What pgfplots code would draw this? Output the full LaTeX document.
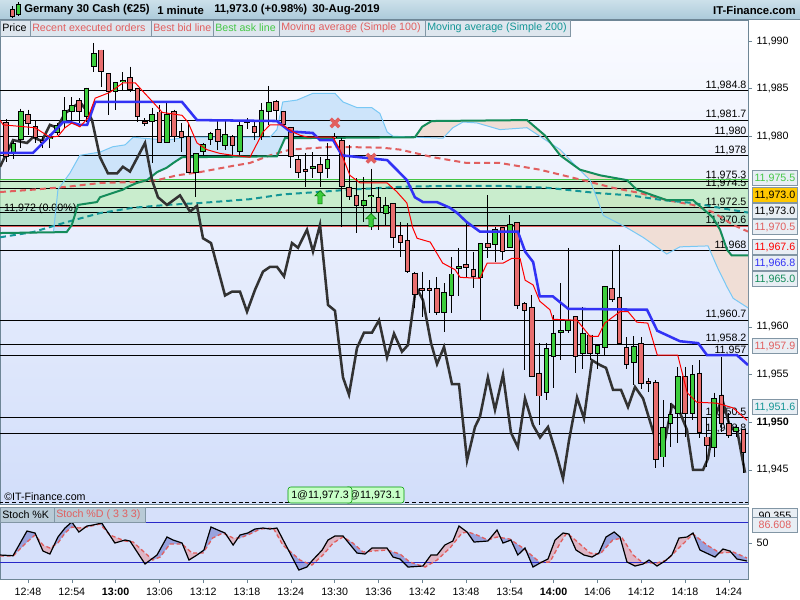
\documentclass[border=0pt]{standalone}
\usepackage{fontspec}
\setmainfont{Liberation Sans}
\usepackage{pgfplots}
\pgfplotsset{compat=1.18}
\usepackage{pgfplotstable}
\usepgfplotslibrary{fillbetween}

\definecolor{frame}{RGB}{110,134,150}
\definecolor{bgtop}{RGB}{250,251,255}
\definecolor{bgbot}{RGB}{210,222,250}
\definecolor{candred}{RGB}{232,110,110}
\definecolor{candgreen}{RGB}{60,205,60}
\definecolor{bluel}{RGB}{50,50,245}
\definecolor{cloudln}{RGB}{120,200,245}
\definecolor{cloudgr}{RGB}{20,140,90}
\definecolor{cloudbl}{RGB}{205,228,250}
\definecolor{cloudpe}{RGB}{240,222,214}
\definecolor{salmon}{RGB}{225,95,95}
\definecolor{tealc}{RGB}{20,150,150}
\definecolor{askgreen}{RGB}{70,200,70}
\definecolor{bandlt}{RGB}{190,236,190}
\definecolor{banddk}{RGB}{165,222,190}
\definecolor{stochbg}{RGB}{214,224,250}
\definecolor{stblue}{RGB}{152,162,222}
\definecolor{stpink}{RGB}{222,182,198}
\definecolor{stline}{RGB}{40,40,200}
\definecolor{tabbg}{RGB}{222,230,238}
\definecolor{tabln}{RGB}{130,150,165}
\definecolor{darkln}{RGB}{50,50,50}

\newcommand\sz{\fontsize{8}{9.6}\selectfont}

\pgfdeclareplotmark{uparr}{%
  \pgfpathmoveto{\pgfpoint{0pt}{5pt}}%
  \pgfpathlineto{\pgfpoint{4pt}{1pt}}%
  \pgfpathlineto{\pgfpoint{1.6pt}{1pt}}%
  \pgfpathlineto{\pgfpoint{1.6pt}{-5pt}}%
  \pgfpathlineto{\pgfpoint{-1.6pt}{-5pt}}%
  \pgfpathlineto{\pgfpoint{-1.6pt}{1pt}}%
  \pgfpathlineto{\pgfpoint{-4pt}{1pt}}%
  \pgfpathclose\pgfusepathqfillstroke}

% minute after 12:00, open, high, low, close
\pgfplotstableread{
t o h l c
45 11981.5 11981.8 11977.3 11977.8
46 11978.2 11979.5 11977.6 11979.3
47 11979.6 11982.9 11978.8 11982.7
48 11982.3 11982.8 11980.1 11981.3
49 11981.1 11981.7 11979.3 11979.8
50 11979.6 11979.9 11978.8 11979.3
51 11979.7 11980.2 11978.8 11979.95
52 11980.3 11981.4 11980.1 11981.2
53 11981.4 11984.1 11980.9 11982.8
54 11982.6 11984.1 11981.5 11983.3
55 11983.8 11984.0 11981.4 11982.6
56 11982.0 11985.1 11981.5 11985.1
57 11987.3 11989.8 11986.7 11988.7
58 11989.1 11989.1 11985.2 11986.7
59 11986.6 11986.6 11982.2 11984.6
60 11984.6 11985.7 11982.8 11985.7
61 11985.7 11986.7 11984.9 11985.95
62 11986.2 11987.3 11984.6 11984.9
63 11985.1 11985.1 11981.5 11982.0
64 11981.6 11981.9 11981.1 11981.3
65 11981.5 11983.0 11977.2 11982.3
66 11982.6 11983.3 11979.3 11979.3
67 11979.3 11983.5 11979.3 11982.3
68 11982.7 11982.8 11979.4 11979.9
69 11980.6 11981.4 11978.4 11979.8
70 11980.0 11981.4 11976.1 11976.1
71 11976.1 11978.2 11973.6 11978.2
72 11978.4 11979.3 11978.0 11979.2
73 11979.6 11980.5 11979.1 11980.3
74 11980.8 11981.7 11978.6 11979.4
75 11979.0 11981.7 11978.6 11980.2
76 11980.0 11980.1 11978.0 11979.0
77 11978.4 11981.7 11978.0 11981.2
78 11981.7 11981.9 11980.8 11981.4
79 11981.1 11981.7 11979.6 11980.3
80 11979.9 11983.5 11979.6 11982.8
81 11982.6 11985.3 11981.2 11983.6
82 11983.7 11983.8 11981.7 11982.7
83 11982.7 11982.7 11981.2 11981.2
84 11981.0 11981.0 11976.7 11977.8
85 11977.6 11978.0 11975.6 11976.1
86 11976.6 11978.2 11974.7 11976.3
87 11976.6 11978.35 11975.6 11976.85
88 11977.1 11977.8 11974.7 11976.1
89 11976.6 11979.3 11975.6 11977.6
90 11980.0 11980.3 11979.6 11979.8
91 11979.6 11979.8 11970.5 11974.7
92 11974.7 11979.1 11973.3 11973.6
93 11973.8 11975.6 11969.9 11972.7
94 11972.7 11975.7 11971.0 11973.3
95 11973.6 11976.6 11970.2 11973.85
96 11973.6 11974.7 11970.2 11972.0
97 11971.8 11973.6 11970.7 11972.8
98 11973.0 11973.0 11968.3 11969.3
99 11969.6 11971.0 11967.3 11968.8
100 11969.1 11970.9 11965.7 11965.8
101 11965.7 11965.8 11962.0 11963.3
102 11964.1 11965.8 11961.0 11963.8
103 11964.1 11964.9 11961.5 11963.8
104 11964.1 11965.2 11961.3 11961.5
105 11961.5 11964.6 11959.5 11963.7
106 11963.2 11967.3 11961.5 11965.6
107 11966.1 11968.3 11963.2 11966.35
108 11966.6 11970.9 11965.1 11966.2
109 11966.1 11967.9 11964.05 11965.2
110 11965.1 11968.8 11960.7 11968.8
111 11968.8 11973.8 11967.2 11968.3
112 11968.6 11970.5 11966.8 11970.3
113 11970.5 11970.5 11967.0 11967.9
114 11968.3 11971.7 11968.3 11970.8
115 11971.0 11971.0 11961.9 11962.2
116 11962.5 11962.6 11955.5 11961.7
117 11962.1 11963.35 11954.7 11954.7
118 11955.2 11958.3 11949.7 11952.7
119 11953.1 11958.3 11952.3 11957.8
120 11956.8 11961.25 11953.6 11959.4
121 11959.4 11964.6 11956.5 11959.65
122 11959.6 11968.3 11959.4 11960.7
123 11961.1 11961.1 11955.2 11956.8
124 11957.2 11962.1 11955.6 11959.4
125 11959.2 11959.2 11956.5 11957.2
126 11957.2 11958.1 11955.6 11958.1
127 11957.8 11964.3 11957.1 11964.3
128 11964.1 11968.1 11962.6 11962.8
129 11963.1 11968.6 11958.1 11958.2
130 11957.9 11958.9 11955.6 11956.0
131 11956.2 11959.0 11953.9 11958.0
132 11958.3 11958.9 11953.5 11954.0
133 11954.3 11954.6 11953.2 11954.0
134 11954.2 11954.4 11945.2 11946.0
135 11946.3 11952.3 11945.3 11949.5
136 11949.8 11952.0 11947.4 11950.9
137 11950.9 11955.8 11947.8 11954.8
138 11954.8 11955.8 11948.45 11950.9
139 11950.9 11956.0 11950.2 11955.1
140 11955.2 11956.5 11948.35 11948.9
141 11948.5 11950.55 11945.3 11947.5
142 11947.3 11953.1 11946.35 11952.5
143 11952.9 11956.8 11949.0 11949.8
144 11949.9 11951.0 11948.35 11948.6
145 11949.0 11949.7 11948.45 11949.5
146 11949.3 11949.3 11944.7 11946.8
}\candles

% dark comparison line
\pgfplotstableread{
t v
44.16 11976.8
45.95 11979.6
47.86 11979.3
48.68 11979.9
49.9 11979.5
51.0 11981.2
51.97 11980.9
53.07 11982.4
55.12 11983.6
56.2 11982.5
56.77 11981.7
57.86 11977.8
58.96 11976.1
60.19 11976.1
61.0 11976.8
61.97 11976.3
64.03 11979.3
64.99 11975.4
65.81 11973.6
67.04 11972.8
68.82 11973.8
70.19 11972.1
71.15 11972.7
71.97 11969.3
73.07 11968.8
74.99 11963.3
75.95 11963.7
77.04 11963.7
78.0 11961.6
79.1 11963.9
80.19 11965.8
81.15 11966.3
82.11 11966.3
83.07 11965.3
84.16 11968.8
84.99 11968.3
86.22 11970.2
87.04 11967.9
88.0 11970.7
89.1 11962.3
90.05 11961.7
91.15 11954.7
91.97 11952.9
93.07 11957.8
94.03 11959.4
95.12 11959.4
96.08 11960.7
97.18 11956.8
98.14 11959.3
99.23 11957.4
100.05 11958.1
101.15 11964.2
102.11 11962.8
103.21 11958.3
104.03 11956.1
104.99 11957.9
106.08 11954.0
107.04 11954.0
108.14 11946.0
109.23 11949.5
109.92 11950.6
111.0 11954.7
111.97 11951.3
113.07 11955.0
114.16 11948.9
115.1 11947.4
116.08 11952.5
117.18 11949.7
118.14 11948.4
119.23 11949.5
120.33 11946.8
121.29 11944.1
122.11 11948.1
123.21 11952.6
124.16 11950.4
125.26 11956.5
126.36 11956.0
127.18 11955.7
128.14 11953.4
129.23 11953.4
130.19 11951.6
131.15 11953.7
132.25 11952.5
134.16 11947.7
135.12 11947.6
136.22 11951.8
137.32 11951.0
138.27 11949.2
139.1 11945.0
140.47 11945.0
141.15 11946.2
142.11 11950.5
143.07 11952.5
144.16 11949.5
145.12 11949.2
146.22 11944.7
}\darkline

\pgfplotstableread{
t v
44.16 11978.25
48.68 11978.25
52.1 11980.9
52.8 11981.5
53.75 11981.5
55.1 11981.2
56.1 11981.2
57.2 11983.6
69.1 11983.6
71.15 11981.7
82.1 11981.6
83.9 11980.5
87.0 11980.35
88.0 11979.6
89.8 11979.6
91.0 11978.0
97.2 11977.5
98.5 11976.5
99.9 11975.4
101.0 11973.6
102.1 11973.1
104.0 11973.1
105.8 11972.5
106.8 11971.95
108.1 11971.0
109.9 11970.0
115.1 11970.0
116.1 11967.9
117.2 11966.8
118.1 11963.2
119.9 11963.2
122.0 11961.9
132.8 11961.8
134.2 11959.6
137.3 11958.5
139.8 11958.3
141.0 11957.05
145.1 11957.05
146.63 11956.0
}\blueline

\pgfplotstableread{
t v
44.16 11981.7
44.6 11981.2
48.96 11980.9
51.0 11979.9
52.1 11980.0
53.07 11980.9
54.0 11981.4
55.1 11981.0
56.2 11981.9
57.2 11984.0
59.2 11984.6
61.0 11985.6
62.7 11985.6
64.0 11984.5
65.1 11983.6
66.4 11982.5
69.1 11982.2
69.9 11981.5
71.15 11979.3
72.5 11978.6
74.3 11978.2
76.1 11978.0
78.4 11977.8
80.2 11980.45
81.15 11981.2
82.9 11981.2
84.3 11980.45
85.3 11980.1
86.4 11979.9
89.8 11979.9
90.7 11978.6
92.1 11975.9
93.5 11975.1
97.2 11975.1
98.5 11974.2
99.9 11973.0
100.7 11970.4
101.3 11969.3
103.1 11968.9
104.8 11966.7
106.5 11966.0
107.2 11965.2
109.9 11965.1
110.9 11966.7
113.1 11966.7
114.3 11967.2
115.4 11967.2
116.1 11964.9
117.2 11964.4
118.1 11962.7
119.5 11961.8
119.9 11960.8
123.2 11960.7
125.0 11959.0
126.1 11959.0
127.0 11960.4
129.1 11961.6
130.2 11961.6
131.4 11960.5
132.9 11960.4
134.2 11957.05
137.0 11957.05
138.3 11953.1
139.6 11952.1
142.4 11952.0
144.6 11951.5
146.5 11950.2
}\redline

\pgfplotstableread{
t v
51.5 11970.0
52.1 11974.4
53.75 11976.15
55.1 11978.0
57.9 11978.35
59.6 11978.9
61.3 11979.1
62.4 11979.9
63.75 11979.8
67.0 11979.6
69.8 11979.9
81.15 11979.9
82.1 11980.7
82.9 11983.6
84.85 11983.8
87.0 11984.5
90.05 11984.5
91.15 11983.6
93.1 11983.0
95.1 11983.0
96.2 11982.4
97.2 11980.45
98.0 11980.0
101.3 11979.9
104.85 11979.8
106.2 11980.9
107.6 11981.5
109.5 11981.4
112.65 11980.7
116.35 11980.9
120.9 11978.6
122.9 11977.0
125.0 11975.4
126.8 11971.7
130.05 11970.4
132.25 11969.4
135.5 11967.65
137.3 11968.4
141.15 11968.5
142.4 11966.3
143.75 11964.2
144.6 11963.0
146.63 11962.0
}\cloudA

\pgfplotstableread{
t v
44.16 11969.85
53.3 11969.95
54.0 11970.7
54.85 11972.8
57.45 11973.1
57.86 11973.6
59.6 11974.05
61.0 11974.4
61.7 11974.7
62.9 11975.1
64.3 11975.4
65.7 11976.25
67.0 11976.7
67.9 11977.2
69.1 11977.8
82.1 11977.9
83.2 11979.8
101.0 11979.9
102.0 11981.0
103.3 11981.6
116.35 11981.7
118.8 11980.1
120.9 11978.0
123.6 11976.5
126.4 11975.9
130.05 11975.4
131.4 11974.4
135.5 11973.3
139.1 11973.3
140.3 11972.5
141.8 11971.5
142.8 11970.2
143.75 11968.1
144.4 11967.5
146.63 11967.5
}\cloudB

\pgfplotstableread{
t v
44.16 11974.15
48.7 11974.4
53.3 11974.7
57.9 11975.1
62.4 11975.2
65.7 11975.4
68.4 11975.9
71.6 11976.25
76.1 11976.9
78.4 11977.2
81.15 11978.0
83.9 11978.6
89.8 11978.9
96.6 11978.8
99.0 11978.6
103.5 11977.8
108.1 11977.2
112.65 11977.2
118.1 11976.5
124.0 11975.4
128.1 11974.6
131.8 11974.05
135.5 11973.3
139.1 11972.8
141.8 11972.05
144.6 11970.7
146.63 11970.0
}\maA

\pgfplotstableread{
t v
44.16 11969.4
48.7 11969.95
53.3 11971.0
57.9 11971.95
62.4 11972.5
67.0 11972.8
71.6 11973.0
78.4 11973.4
82.9 11973.9
87.6 11974.15
92.1 11974.4
99.0 11974.7
105.8 11974.8
112.65 11974.8
119.1 11974.6
125.9 11974.05
130.5 11973.8
135.0 11973.3
139.1 11973.0
144.2 11972.3
146.63 11972.0
}\maB

\pgfplotstableread{
t v
44.16 31.9
45.95 30.9
47.86 67.9
48.96 64.9
50.05 37.9
51.0 33.4
52.1 58.9
53.07 72.4
54.0 81.4
54.97 66.4
56.08 75.4
56.9 76.9
58.1 79.9
59.9 49.9
61.3 54.4
61.97 52.9
64.03 18.4
65.67 31.9
67.04 58.9
67.86 54.4
69.1 49.9
70.05 24.4
71.15 31.9
72.1 39.4
73.07 73.9
74.0 69.4
74.99 64.9
76.1 46.9
77.04 61.9
78.1 64.9
79.1 70.9
80.19 72.4
81.15 70.9
82.1 72.4
85.1 9.4
86.2 13.9
87.0 24.4
88.3 39.4
89.1 54.4
90.05 60.4
91.15 60.4
93.07 34.9
94.16 33.4
95.12 42.4
97.18 42.4
98.0 28.9
98.96 25.9
100.05 13.9
102.1 15.4
103.2 31.9
104.03 31.9
105.1 46.9
106.2 52.9
107.04 75.4
108.14 66.4
109.1 51.4
111.0 52.9
112.25 69.4
113.07 49.9
114.16 54.4
115.1 31.9
116.08 42.4
117.18 13.9
118.14 19.9
119.23 25.9
120.2 54.4
121.3 64.9
122.1 63.4
123.07 39.4
124.16 31.9
125.26 28.9
126.2 34.9
127.18 58.9
128.3 66.4
129.1 58.9
130.05 21.4
131.15 15.4
132.25 18.4
133.07 24.4
134.16 15.4
135.26 22.9
136.2 31.9
137.18 57.4
138.27 58.9
139.1 64.9
140.05 39.4
142.1 28.9
143.2 40.9
144.16 37.9
145.12 25.9
146.5 22.9
}\stK

\pgfplotstableread{
t v
44.16 30.4
45.95 30.4
47.86 51.4
48.96 61.9
50.05 46.9
51.0 42.4
52.1 49.9
53.07 64.9
54.0 73.9
54.97 72.4
56.08 73.9
57.86 78.4
59.23 61.9
61.3 52.9
62.4 51.4
65.1 24.4
66.1 28.9
67.45 48.4
69.1 48.4
70.47 34.9
71.97 34.9
73.3 57.4
74.7 64.9
76.1 57.4
77.04 57.4
78.4 63.4
79.8 70.9
81.6 72.4
82.9 46.9
85.26 24.4
86.9 16.9
88.4 31.9
89.8 49.9
91.15 58.9
92.5 49.9
93.9 36.4
95.26 37.9
97.18 39.4
98.96 33.4
100.3 21.4
102.4 13.9
104.03 24.4
105.8 42.4
107.45 64.9
108.27 66.4
109.5 61.9
111.0 54.4
112.25 58.9
114.0 55.9
115.8 42.4
118.14 20.8
119.5 21.4
120.9 49.9
121.8 64.9
122.66 57.4
125.0 34.9
126.36 33.4
128.1 54.4
129.4 57.4
130.9 31.9
132.25 19.9
134.16 19.9
135.5 24.4
137.3 43.9
139.1 63.5
141.0 46.9
142.8 34.9
144.6 36.4
146.5 27.4
}\stD

\begin{document}
\begin{tikzpicture}
\begin{scope}[x=0.75pt,y=-0.75pt]
\path (0,0) rectangle (800,600);
\end{scope}

% ---------------- price panel ----------------
\begin{axis}[
  at={(0pt,-378pt)}, anchor=south west, scale only axis,
  width=561pt, height=363pt,
  xmin=44.164, xmax=146.63, ymin=11941.42, ymax=11992.2,
  axis line style={draw=frame},
  axis background/.style={top color=bgtop, bottom color=bgbot},
  xtick=\empty, ytick pos=right,
  ytick={11945,11955,11960,11980,11985,11990},
  extra y ticks={11950}, extra y tick style={yticklabel style={font=\sz\bfseries}},
  scaled y ticks=false,
  tick align=outside, major tick length=3pt, tick style={draw=frame},
  yticklabel style={font=\sz, anchor=west},
  /pgf/number format/.cd, fixed, precision=1, 1000 sep={,}, assume math mode=true,
]
\addplot[name path=CA, draw=none] table {\cloudA};
\addplot[name path=CB, draw=none] table {\cloudB};
\addplot[cloudbl] fill between[of=CA and CB, soft clip={domain=51.5:101}];
\addplot[cloudpe] fill between[of=CA and CB, soft clip={domain=101:146.7}];

% bid / ask band
\addplot[fill=bandlt, draw=none, opacity=0.75] coordinates {(44,11972.5) (147,11972.5) (147,11975.5) (44,11975.5)} -- cycle;
\addplot[fill=banddk, draw=none, opacity=0.75] coordinates {(44,11970.5) (147,11970.5) (147,11972.5) (44,11972.5)} -- cycle;

% price levels
\pgfplotsinvokeforeach{11984.8,11981.7,11980,11978,11975.3,11974.5,11972.5,11970.6,11968,11960.7,11958.2,11957,11950.5,11948.8}{
  \addplot[black, line width=0.75pt] coordinates {(44,#1) (147,#1)};
  \node[anchor=base east, font=\sz, inner sep=0pt, yshift=1.7pt] at (axis cs:146.45,#1)
    {\pgfmathprintnumber[fixed,precision=1,1000 sep={,},assume math mode=true]{#1}};
}
\addplot[black, line width=0.75pt] coordinates {(44,11972) (147,11972)};
\node[anchor=base west, font=\sz, inner sep=0pt, yshift=1pt] at (axis cs:44.7,11972) {11,972 (0.00\%)};
\addplot[askgreen, line width=0.75pt] coordinates {(44,11975.5) (147,11975.5)};
\addplot[salmon, line width=0.75pt] coordinates {(44,11970.5) (147,11970.5)};

% moving averages
\addplot[salmon, line width=1.5pt, dash pattern=on 4.5pt off 3pt] table {\maA};
\addplot[tealc, line width=1.5pt, dash pattern=on 4.5pt off 3pt] table {\maB};

% cloud lines
\addplot[cloudln, line width=0.75pt] table {\cloudA};
\addplot[cloudgr, line width=1.5pt] table {\cloudB};

% comparison line
\addplot[darkln, line width=1.9pt] table {\darkline};

% candles: wicks, then bodies (outline, then fill)
\addplot[draw=none, mark=none, error bars/.cd, y dir=minus, y explicit, error mark=none,
  error bar style={draw=black, line width=0.75pt}]
  table[x=t, y=h, y error expr=\thisrow{h}-\thisrow{l}] {\candles};
\addplot[draw=none, mark=none, restrict expr to domain={\thisrow{c}-\thisrow{o}}{0:100},
  error bars/.cd, y dir=minus, y explicit, error mark=none,
  error bar style={draw=black, line width=4.2pt}]
  table[x=t, y=c, y error expr=\thisrow{c}-\thisrow{o}] {\candles};
\addplot[draw=none, mark=none, restrict expr to domain={\thisrow{c}-\thisrow{o}}{0:100},
  error bars/.cd, y dir=minus, y explicit, error mark=none,
  error bar style={draw=candgreen, line width=2.7pt}]
  table[x=t, y expr=\thisrow{c}-0.1, y error expr={max(\thisrow{c}-\thisrow{o}-0.2,0.01)}] {\candles};
\addplot[draw=none, mark=none, restrict expr to domain={\thisrow{o}-\thisrow{c}}{0.001:100},
  error bars/.cd, y dir=minus, y explicit, error mark=none,
  error bar style={draw=black, line width=4.2pt}]
  table[x=t, y=o, y error expr=\thisrow{o}-\thisrow{c}] {\candles};
\addplot[draw=none, mark=none, restrict expr to domain={\thisrow{o}-\thisrow{c}}{0.001:100},
  error bars/.cd, y dir=minus, y explicit, error mark=none,
  error bar style={draw=candred, line width=2.7pt}]
  table[x=t, y expr=\thisrow{o}-0.1, y error expr={max(\thisrow{o}-\thisrow{c}-0.2,0.01)}] {\candles};

% indicator lines
\addplot[bluel, line width=1.9pt] table {\blueline};
\addplot[red, line width=0.75pt] table {\redline};

% executed orders
\addplot[only marks, mark=x, mark size=4.5pt, line width=2.6pt, color=salmon]
  coordinates {(90.05,11981.4) (95.0,11977.7)};
\addplot[only marks, mark=uparr, mark options={draw=green!45!black, fill=candgreen, line width=0.4pt}]
  coordinates {(88.0,11973.6) (95.0,11971.2)};

\addplot[black, line width=0.75pt, dash pattern=on 3pt off 2pt] coordinates {(44,11941.6) (147,11941.6)};
\end{axis}

% ---------------- stochastic panel ----------------
\begin{axis}[
  at={(0pt,-434.25pt)}, anchor=south west, scale only axis,
  width=561pt, height=54pt,
  xmin=44.164, xmax=146.63, ymin=-4.05, ymax=103.9,
  axis line style={draw=frame},
  axis background/.style={fill=stochbg},
  ytick={50}, ytick pos=right,
  xtick={48,54,60,66,72,78,84,90,96,102,108,114,120,126,132,138,144},
  xticklabels={12:48,12:54,\textbf{13:00},13:06,13:12,13:18,13:24,13:30,13:36,13:42,13:48,13:54,\textbf{14:00},14:06,14:12,14:18,14:24},
  xtick pos=bottom,
  tick align=outside, major tick length=3pt, tick style={draw=frame},
  ticklabel style={font=\sz},
  yticklabel style={anchor=west},
  /pgf/number format/assume math mode=true,
]
\addplot[stline, line width=0.75pt] coordinates {(44,20) (147,20)};
\addplot[stline, line width=0.75pt] coordinates {(44,80) (147,80)};
\addplot[name path=K, draw=none] table {\stK};
\addplot[name path=D, draw=none] table {\stD};
\addplot fill between[of=K and D, split,
  every even segment/.style={fill=stblue},
  every odd segment/.style={fill=stpink}];
\addplot[salmon, line width=1pt, dash pattern=on 3pt off 2pt] table {\stD};
\addplot[black, line width=0.9pt] table {\stK};
\end{axis}

% ---------------- frame texts ----------------
\begin{scope}[x=0.75pt,y=-0.75pt]
\fill[top color={rgb,255:red,204;green,224;blue,234}, bottom color={rgb,255:red,172;green,202;blue,218}] (0,0) rectangle (800,19);
\draw[frame] (0,19) -- (800,19);
% icon
\draw[black, line width=0.5pt] (12,6) -- (12,18) (18,2) -- (18,16);
\filldraw[fill=candred, draw=black, line width=0.4pt] (10,9) rectangle (14,16);
\filldraw[fill=candgreen, draw=black, line width=0.4pt] (16,4) rectangle (20,14);
\node[anchor=west, inner sep=0pt, font=\fontsize{8.5}{10}\selectfont\bfseries] at (24,10) {Germany 30 Cash (€25)};
\node[anchor=west, inner sep=0pt, font=\fontsize{8.5}{10}\selectfont\bfseries] at (157,10) {1 minute};
\node[anchor=west, inner sep=0pt, font=\fontsize{8.5}{10}\selectfont\bfseries] at (214,10) {11,973.0 (+0.98\%)};
\node[anchor=west, inner sep=0pt, font=\fontsize{8.5}{10}\selectfont\bfseries] at (312,10) {30-Aug-2019};
\node[anchor=east, inner sep=0pt, font=\fontsize{8.5}{10}\selectfont\bfseries] at (796,10.5) {IT-Finance.com};

% tabs
\tikzset{tab/.style={draw=tabln, fill=tabbg, line width=0.6pt}}
\draw[tab] (0,20) rectangle (30,36);
\draw[tab] (30,20) rectangle (151,36);
\draw[tab] (151,20) rectangle (213,36);
\draw[tab] (213,20) rectangle (279,36);
\draw[tab] (279,20) rectangle (425,36);
\draw[tab] (425,20) rectangle (570,36);
\node[anchor=west, inner sep=0pt, font=\sz] at (2,28) {Price};
\node[anchor=west, inner sep=0pt, font=\sz, text=salmon] at (32,28) {Recent executed orders};
\node[anchor=west, inner sep=0pt, font=\sz, text=salmon] at (153,28) {Best bid line};
\node[anchor=west, inner sep=0pt, font=\sz, text=askgreen] at (215,28) {Best ask line};
\node[anchor=west, inner sep=0pt, font=\sz, text=salmon] at (281,28) {Moving average (Simple 100)};
\node[anchor=west, inner sep=0pt, font=\sz, text=tealc] at (427,28) {Moving average (Simple 200)};

% order boxes and copyright
\node[anchor=west, inner sep=0pt, font=\sz] at (4,497) {©IT-Finance.com};
\draw[green!60!black, fill=green!22, rounded corners=2pt] (345,487) rectangle (404,503);
\node[anchor=east, inner sep=0pt, font=\sz] at (401,495) {1@11,973.1};
\draw[green!60!black, fill=green!22, rounded corners=2pt] (288,487) rectangle (352,503);
\node[anchor=center, inner sep=0pt, font=\sz] at (320,495) {1@11,977.3};

% stoch tab
\draw[tab, fill={rgb,255:red,184;green,202;blue,214}] (0,507) rectangle (54,522);
\draw[tab, fill={rgb,255:red,184;green,202;blue,214}] (54,507) rectangle (145,522);
\node[anchor=west, inner sep=0pt, font=\sz] at (2,515) {Stoch \%K};
\node[anchor=west, inner sep=0pt, font=\sz, text=salmon] at (56,515) {Stoch \%D ( 3 3 3)};

% right-hand value boxes
\tikzset{rbox/.style={draw=tabln, fill={rgb,255:red,232;green,238;blue,244}, minimum width=34pt, minimum height=11pt, inner sep=0pt, anchor=west, font=\sz}}
\node[rbox, text=askgreen] at (752,178) {11,975.5};
\node[rbox, fill={rgb,255:red,255;green,200;blue,0}] at (752,195) {11,973.0};
\node[rbox] at (752,211) {11,973.0};
\node[rbox, text=salmon] at (752,227) {11,970.5};
\node[rbox, text=red] at (752,247) {11,967.6};
\node[rbox, text=bluel] at (752,263) {11,966.8};
\node[rbox, text=cloudgr] at (752,279) {11,965.0};
\node[rbox, text=salmon] at (752,346) {11,957.9};
\node[rbox, text=tealc] at (752,407) {11,951.6};
\node[rbox] at (752,516) {90.355};
\node[rbox, text=salmon] at (752,525) {86.608};

\pgfresetboundingbox
\path[use as bounding box] (0,0) rectangle (800,600);
\end{scope}
\end{tikzpicture}
\end{document}
